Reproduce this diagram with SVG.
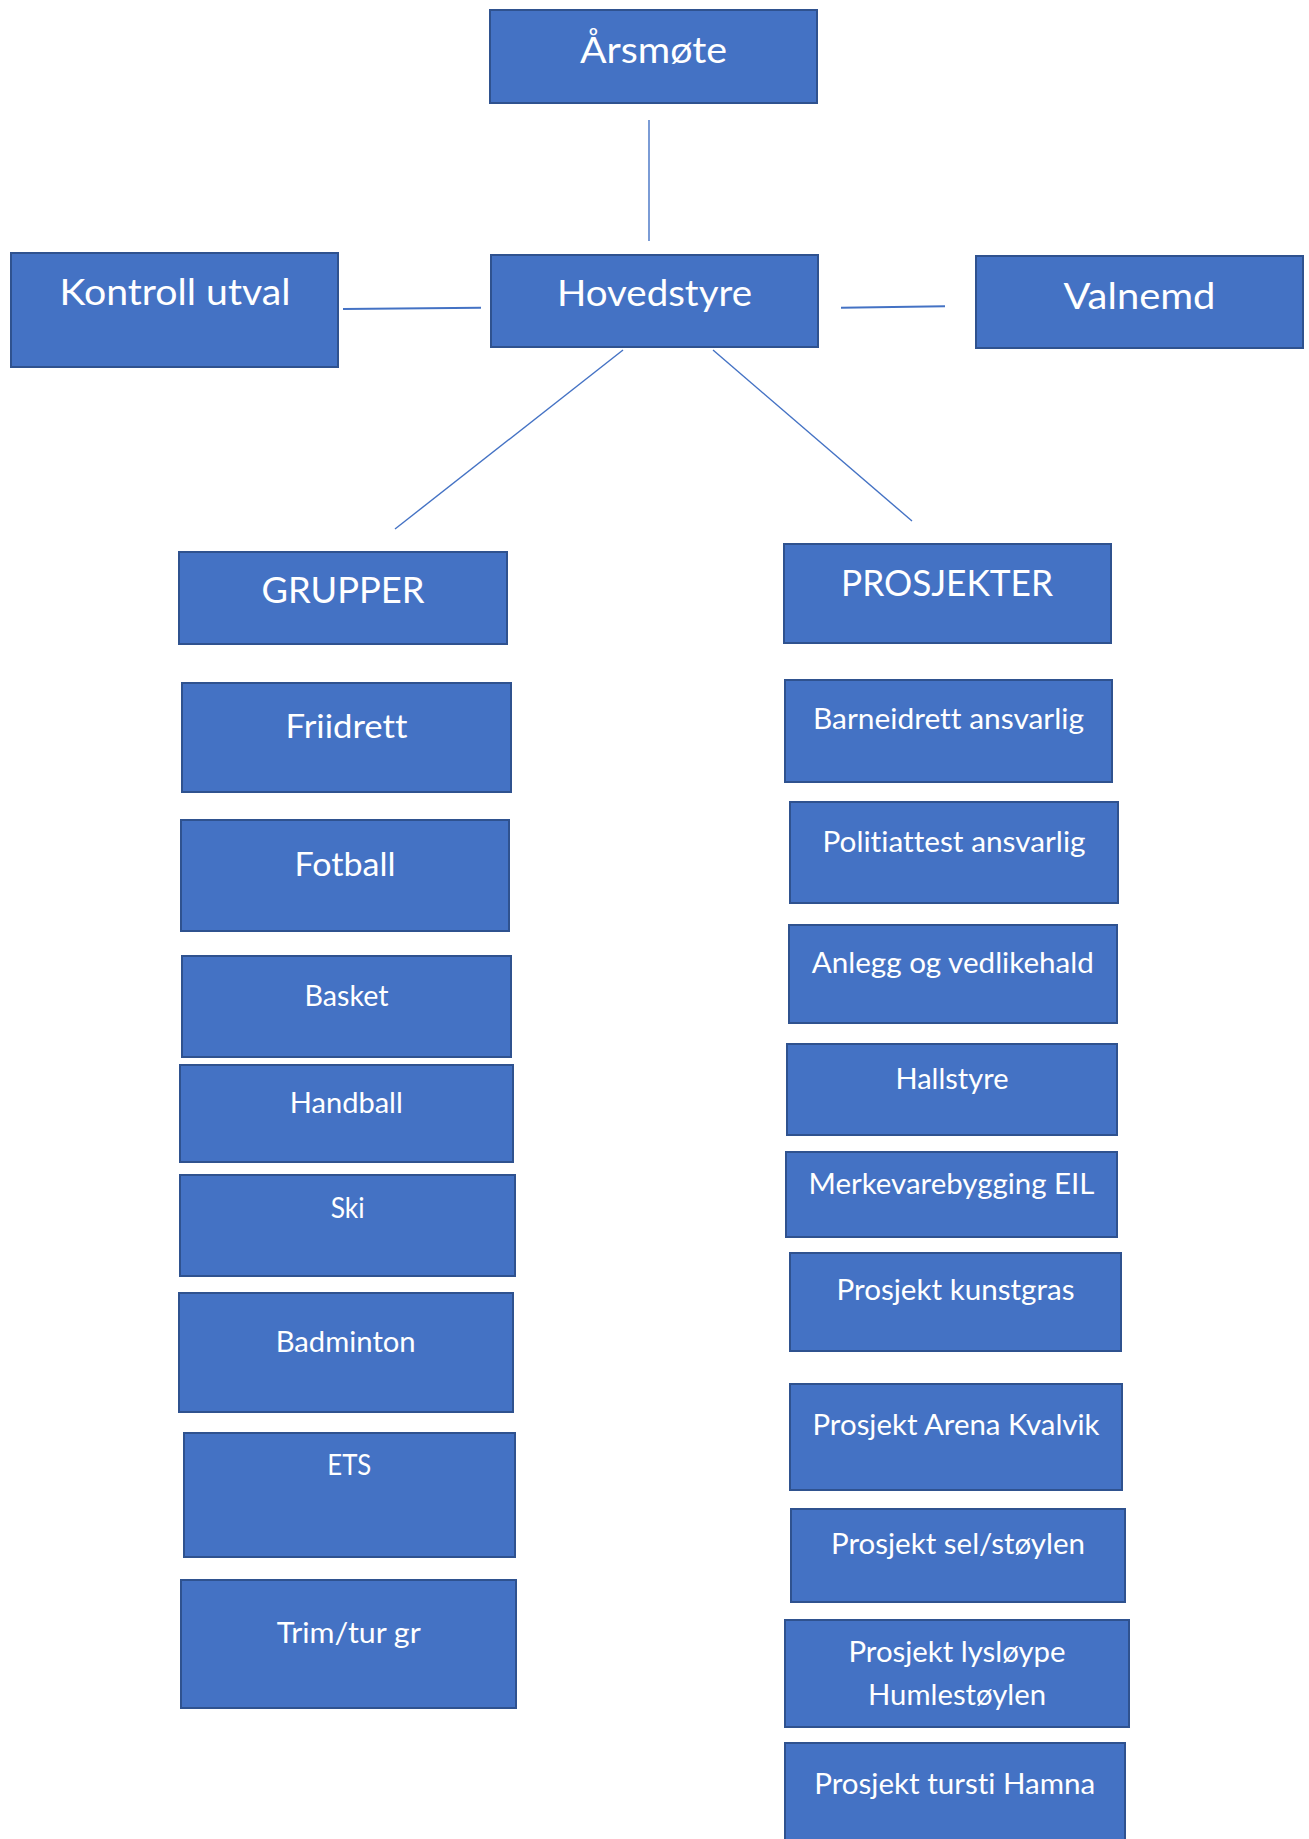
<svg xmlns="http://www.w3.org/2000/svg" width="1309" height="1839" viewBox="0 0 1309 1839">
<style>
.box{fill:#4472C4;stroke:#2F528F;stroke-width:2}
.t{fill:#FFFFFF;font-family:Lato,"Open Sans","Liberation Sans",sans-serif;text-anchor:middle;font-variant-ligatures:none;font-feature-settings:"liga" 0,"dlig" 0}
.s{font-size:28px}
.m{font-size:33.5px}
.l{font-size:37px}
.c{stroke:#4472C4;stroke-width:1.4;fill:none}
</style>
<rect width="1309" height="1839" fill="#FFFFFF"/>
<g id="connectors">
<line class="c" x1="649" y1="120" x2="649" y2="241"/>
<line class="c" x1="343" y1="309" x2="481" y2="307.7" style="stroke-width:2"/>
<line class="c" x1="841" y1="307.7" x2="945" y2="306.3" style="stroke-width:2"/>
<line class="c" x1="623" y1="350" x2="395" y2="529"/>
<line class="c" x1="713" y1="350" x2="912" y2="521"/>
</g>
<g id="arsmote"><rect class="box" x="490" y="10" width="327" height="93"/><text class="t l" x="653.5" y="63" textLength="147" lengthAdjust="spacingAndGlyphs">Årsmøte</text></g>
<g id="kontroll"><rect class="box" x="11" y="253" width="327" height="114"/><text class="t l" x="175" y="305" textLength="231" lengthAdjust="spacingAndGlyphs">Kontroll utval</text></g>
<g id="hovedstyre"><rect class="box" x="491" y="255" width="327" height="92"/><text class="t l" x="654.5" y="306" textLength="195" lengthAdjust="spacingAndGlyphs">Hovedstyre</text></g>
<g id="valnemd"><rect class="box" x="976" y="256" width="327" height="92"/><text class="t l" x="1139.5" y="308.5" textLength="152" lengthAdjust="spacingAndGlyphs">Valnemd</text></g>
<g id="grupper"><rect class="box" x="179" y="552" width="328" height="92"/><text class="t l" x="343" y="602.7" textLength="163" lengthAdjust="spacingAndGlyphs">GRUPPER</text></g>
<g id="prosjekter"><rect class="box" x="784" y="544" width="327" height="99"/><text class="t l" x="947" y="596" textLength="212" lengthAdjust="spacingAndGlyphs">PROSJEKTER</text></g>
<g id="friidrett"><rect class="box" x="182" y="683" width="329" height="109"/><text class="t m" x="346.5" y="738.3" textLength="122" lengthAdjust="spacingAndGlyphs">Friidrett</text></g>
<g id="fotball"><rect class="box" x="181" y="820" width="328" height="111"/><text class="t m" x="345" y="876" textLength="101" lengthAdjust="spacingAndGlyphs">Fotball</text></g>
<g id="basket"><rect class="box" x="182" y="956" width="329" height="101"/><text class="t s" x="346.5" y="1006" textLength="84" lengthAdjust="spacingAndGlyphs">Basket</text></g>
<g id="handball"><rect class="box" x="180" y="1065" width="333" height="97"/><text class="t s" x="346.3" y="1112.7" textLength="113" lengthAdjust="spacingAndGlyphs">Handball</text></g>
<g id="ski"><rect class="box" x="180" y="1175" width="335" height="101"/><text class="t s" x="347.7" y="1217.7" textLength="34" lengthAdjust="spacingAndGlyphs">Ski</text></g>
<g id="badminton"><rect class="box" x="179" y="1293" width="334" height="119"/><text class="t s" x="345.7" y="1351.7" textLength="140" lengthAdjust="spacingAndGlyphs">Badminton</text></g>
<g id="ets"><rect class="box" x="184" y="1433" width="331" height="124"/><text class="t s" x="349.3" y="1474.7" textLength="44" lengthAdjust="spacingAndGlyphs">ETS</text></g>
<g id="trimtur"><rect class="box" x="181" y="1580" width="335" height="128"/><text class="t s" x="348.7" y="1642.7" textLength="144" lengthAdjust="spacingAndGlyphs">Trim/tur gr</text></g>
<g id="barneidrett"><rect class="box" x="785" y="680" width="327" height="102"/><text class="t s" x="948.5" y="729.3" textLength="271" lengthAdjust="spacingAndGlyphs">Barneidrett ansvarlig</text></g>
<g id="politiattest"><rect class="box" x="790" y="802" width="328" height="101"/><text class="t s" x="954" y="851.7" textLength="263" lengthAdjust="spacingAndGlyphs">Politiattest ansvarlig</text></g>
<g id="anlegg"><rect class="box" x="789" y="925" width="328" height="98"/><text class="t s" x="952.8" y="972.7" textLength="282" lengthAdjust="spacingAndGlyphs">Anlegg og vedlikehald</text></g>
<g id="hallstyre"><rect class="box" x="787" y="1044" width="330" height="91"/><text class="t s" x="952" y="1089.3" textLength="113" lengthAdjust="spacingAndGlyphs">Hallstyre</text></g>
<g id="merkevare"><rect class="box" x="786" y="1152" width="331" height="85"/><text class="t s" x="951.5" y="1194.3" textLength="286" lengthAdjust="spacingAndGlyphs">Merkevarebygging EIL</text></g>
<g id="kunstgras"><rect class="box" x="790" y="1253" width="331" height="98"/><text class="t s" x="955.5" y="1300" textLength="238" lengthAdjust="spacingAndGlyphs">Prosjekt kunstgras</text></g>
<g id="arena"><rect class="box" x="790" y="1384" width="332" height="106"/><text class="t s" x="956" y="1435" textLength="287" lengthAdjust="spacingAndGlyphs">Prosjekt Arena Kvalvik</text></g>
<g id="selstoylen"><rect class="box" x="791" y="1509" width="334" height="93"/><text class="t s" x="958" y="1554.3" textLength="254" lengthAdjust="spacingAndGlyphs">Prosjekt sel/støylen</text></g>
<g id="lysloype"><rect class="box" x="785" y="1620" width="344" height="107"/><text class="t s" x="957" y="1662.3" textLength="217" lengthAdjust="spacingAndGlyphs">Prosjekt lysløype</text><text class="t s" x="957" y="1705" textLength="178" lengthAdjust="spacingAndGlyphs">Humlestøylen</text></g>
<g id="tursti"><rect class="box" x="785" y="1743" width="340" height="110"/><text class="t s" x="954.7" y="1794.3" textLength="281" lengthAdjust="spacingAndGlyphs">Prosjekt tursti Hamna</text></g>
</svg>
